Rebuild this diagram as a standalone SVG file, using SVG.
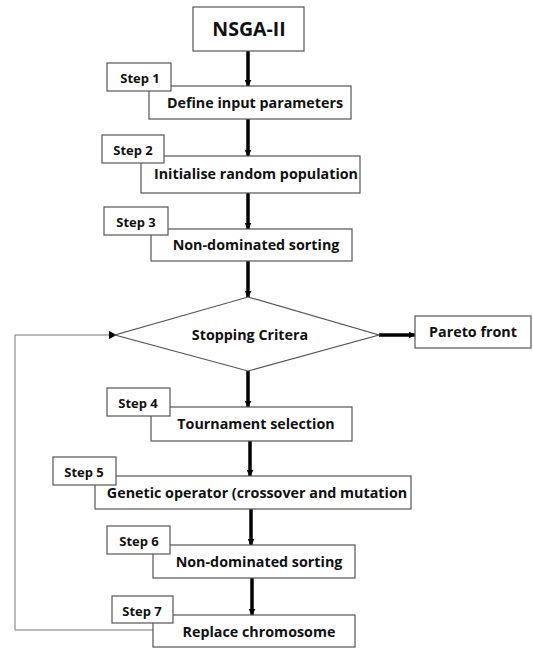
<svg xmlns="http://www.w3.org/2000/svg" width="533" height="648" viewBox="0 0 533 648">
<style>
.box{fill:#fff;stroke:#555;stroke-width:1.2}
.t{font-family:"Open Sans","Noto Sans",sans-serif;font-weight:bold;fill:#111;text-anchor:middle}
.m{font-size:14.3px}
.s{font-size:13px}
.ar{stroke:#000;stroke-width:3.5;fill:none}
.fb{stroke:#777;stroke-width:1;fill:none}
</style>
<defs>
<marker id="ah" viewBox="0 0 10 10" refX="9" refY="5" markerWidth="2" markerHeight="2" orient="auto" markerUnits="strokeWidth">
<path d="M0,0 L10,5 L0,10 z" fill="#000"/>
</marker>
<marker id="ah2" viewBox="0 0 10 10" refX="9" refY="5" markerWidth="8" markerHeight="8" orient="auto" markerUnits="userSpaceOnUse">
<path d="M0,0 L10,5 L0,10 z" fill="#000"/>
</marker>
</defs>
<g id="connectors">
<line class="ar" x1="248" y1="51" x2="248" y2="86" marker-end="url(#ah)"/>
<line class="ar" x1="248" y1="119" x2="248" y2="156" marker-end="url(#ah)"/>
<line class="ar" x1="248" y1="193" x2="248" y2="229" marker-end="url(#ah)"/>
<line class="ar" x1="248" y1="261" x2="248" y2="297" marker-end="url(#ah)"/>
<line class="ar" x1="379" y1="335" x2="415" y2="335" marker-end="url(#ah)"/>
<line class="ar" x1="248" y1="371" x2="248" y2="407" marker-end="url(#ah)"/>
<line class="ar" x1="250" y1="441" x2="250" y2="476" marker-end="url(#ah)"/>
<line class="ar" x1="251" y1="509" x2="251" y2="545" marker-end="url(#ah)"/>
<line class="ar" x1="252" y1="578" x2="252" y2="615" marker-end="url(#ah)"/>
<polyline class="fb" points="153,630 15,630 15,335 116,335" marker-end="url(#ah2)"/>
</g>
<g id="nsga">
<rect class="box" x="193" y="7" width="111" height="44"/>
<text class="t" x="249" y="36" font-size="19.5">NSGA-II</text>
</g>
<g id="step1">
<rect class="box" x="149" y="86" width="202" height="33"/>
<text class="t m" x="255" y="108">Define input parameters</text>
<rect class="box" x="107" y="63" width="64" height="28"/>
<text class="t s" x="140" y="83">Step 1</text>
</g>
<g id="step2">
<rect class="box" x="141" y="156" width="219" height="37"/>
<text class="t m" x="256" y="179">Initialise random population</text>
<rect class="box" x="102" y="135" width="62" height="28"/>
<text class="t s" x="133" y="155">Step 2</text>
</g>
<g id="step3">
<rect class="box" x="151" y="229" width="201" height="32"/>
<text class="t m" x="256" y="250">Non-dominated sorting</text>
<rect class="box" x="104" y="207" width="64" height="28"/>
<text class="t s" x="136" y="227">Step 3</text>
</g>
<g id="stopping">
<polygon class="box" points="248,297 379,335 248,371 115,335"/>
<text class="t m" x="250" y="340">Stopping Critera</text>
</g>
<g id="pareto">
<rect class="box" x="415" y="316" width="116" height="32"/>
<text class="t m" x="473" y="337">Pareto front</text>
</g>
<g id="step4">
<rect class="box" x="151" y="407" width="201" height="34"/>
<text class="t m" x="256" y="429">Tournament selection</text>
<rect class="box" x="107" y="388" width="63" height="28"/>
<text class="t s" x="138" y="408">Step 4</text>
</g>
<g id="step5">
<rect class="box" x="95" y="476" width="316" height="33"/>
<text class="t m" x="257" y="498">Genetic operator (crossover and mutation</text>
<rect class="box" x="53" y="457" width="63" height="28"/>
<text class="t s" x="84" y="477">Step 5</text>
</g>
<g id="step6">
<rect class="box" x="153" y="545" width="202" height="33"/>
<text class="t m" x="259" y="567">Non-dominated sorting</text>
<rect class="box" x="107" y="526" width="63" height="28"/>
<text class="t s" x="139" y="546">Step 6</text>
</g>
<g id="step7">
<rect class="box" x="153" y="615" width="202" height="32"/>
<text class="t m" x="259" y="637">Replace chromosome</text>
<rect class="box" x="112" y="596" width="61" height="27"/>
<text class="t s" x="142" y="616">Step 7</text>
</g>
</svg>
